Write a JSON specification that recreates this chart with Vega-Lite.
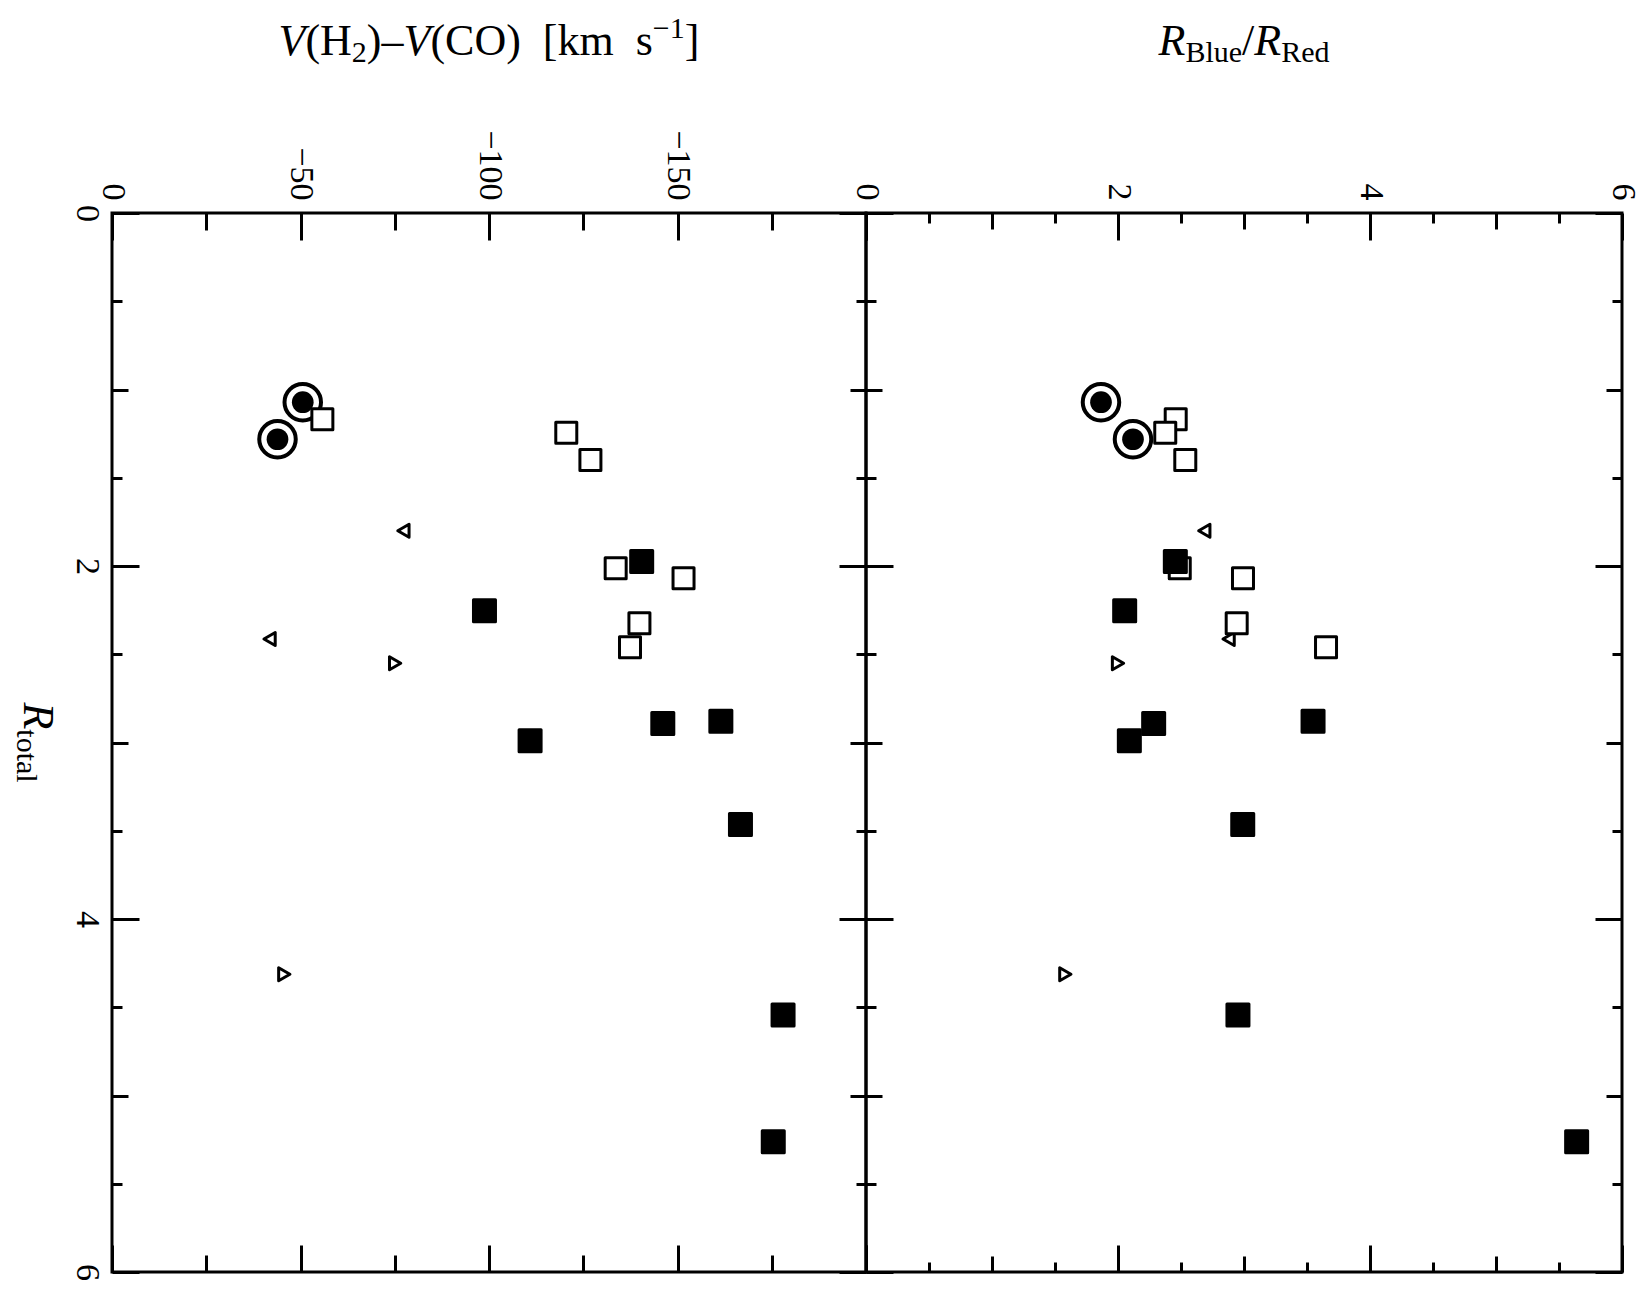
{
  "$schema": "https://vega.github.io/schema/vega-lite/v6.json",
  "padding": {"left": 9, "top": 12, "right": 5, "bottom": 5},
  "bounds": "flush",
  "spacing": 0,
  "config": {
    "font": "Liberation Serif",
    "view": {"stroke": "black", "strokeWidth": 3},
    "axis": {"domain": false, "grid": false, "tickColor": "black", "tickWidth": 3, "labelFont": "Liberation Serif", "labelFontSize": 34, "labelColor": "black"}
  },
  "datasets": {
    "pts": [
      {"R": 1.072, "dV": -50.6, "ratio": 1.865, "type": "circle"},
      {"R": 1.282, "dV": -43.9, "ratio": 2.119, "type": "circle"},
      {"R": 1.169, "dV": -55.8, "ratio": 2.458, "type": "open"},
      {"R": 1.245, "dV": -120.5, "ratio": 2.375, "type": "open"},
      {"R": 1.399, "dV": -126.9, "ratio": 2.534, "type": "open"},
      {"R": 1.80, "dV": -77.3, "ratio": 2.685, "type": "left"},
      {"R": 2.013, "dV": -133.6, "ratio": 2.49, "type": "open"},
      {"R": 1.974, "dV": -140.5, "ratio": 2.455, "type": "filled"},
      {"R": 2.07, "dV": -151.6, "ratio": 2.992, "type": "open"},
      {"R": 2.253, "dV": -98.8, "ratio": 2.053, "type": "filled"},
      {"R": 2.325, "dV": -139.9, "ratio": 2.942, "type": "open"},
      {"R": 2.46, "dV": -137.4, "ratio": 3.651, "type": "open"},
      {"R": 2.414, "dV": -41.8, "ratio": 2.878, "type": "left"},
      {"R": 2.551, "dV": -75.1, "ratio": 2.0, "type": "right"},
      {"R": 2.99, "dV": -110.9, "ratio": 2.09, "type": "filled"},
      {"R": 2.893, "dV": -146.1, "ratio": 2.283, "type": "filled"},
      {"R": 2.88, "dV": -161.5, "ratio": 3.548, "type": "filled"},
      {"R": 3.464, "dV": -166.7, "ratio": 2.99, "type": "filled"},
      {"R": 4.313, "dV": -45.7, "ratio": 1.582, "type": "right"},
      {"R": 4.544, "dV": -178.0, "ratio": 2.952, "type": "filled"},
      {"R": 5.262, "dV": -175.4, "ratio": 5.64, "type": "filled"}
    ]
  },
  "hconcat": [
    {
      "width": 754,
      "height": 1059,
      "data": {"name": "pts"},
      "resolve": {"axis": {"x": "independent", "y": "independent"}},
      "layer": [
        {
          "transform": [{"filter": "datum.type === 'circle'"}],
          "mark": {"type": "point", "shape": "circle", "size": 1332, "filled": false, "fill": null, "stroke": "black", "strokeWidth": 4, "opacity": 1},
          "encoding": {
            "x": {"field": "dV", "type": "quantitative", "scale": {"domain": [-200, 0], "reverse": true, "nice": false, "zero": false},
              "axis": {"orient": "top", "title": null, "values": [0, -25, -50, -75, -100, -125, -150, -175, -200], "tickSize": {"expr": "datum.value % 50 === 0 ? -27 : -17"}, "labelAngle": 90, "labelAlign": "right", "labelBaseline": "middle", "labelPadding": 40, "labelFlush": false, "labelOverlap": false, "labelExpr": "datum.value % 50 === 0 && datum.value > -200 ? datum.label : ''"}},
            "y": {"field": "R", "type": "quantitative", "scale": {"domain": [0, 6], "reverse": true, "nice": false, "zero": false},
              "axis": {"orient": "left", "title": null, "values": [0, 0.5, 1, 1.5, 2, 2.5, 3, 3.5, 4, 4.5, 5, 5.5, 6], "tickSize": {"expr": "datum.value % 2 === 0 ? -27 : (datum.value % 1 === 0 ? -16 : -10)"}, "labelAngle": 90, "labelAlign": "center", "labelBaseline": "top", "labelPadding": 36, "labelFlush": false, "labelOverlap": false, "labelExpr": "datum.value % 2 === 0 ? format(datum.value, 'd') : ''"}}
          }
        },
        {
          "transform": [{"filter": "datum.type === 'circle'"}],
          "mark": {"type": "point", "shape": "circle", "size": 471, "filled": true, "fill": "black", "strokeWidth": 0, "opacity": 1},
          "encoding": {
            "x": {"field": "dV", "type": "quantitative", "scale": {"domain": [-200, 0], "reverse": true, "nice": false, "zero": false},
              "axis": {"orient": "bottom", "title": null, "values": [0, -25, -50, -75, -100, -125, -150, -175, -200], "tickSize": {"expr": "datum.value % 50 === 0 ? -27 : -17"}, "labels": false}},
            "y": {"field": "R", "type": "quantitative", "scale": {"domain": [0, 6], "reverse": true, "nice": false, "zero": false},
              "axis": {"orient": "right", "title": null, "values": [0, 0.5, 1, 1.5, 2, 2.5, 3, 3.5, 4, 4.5, 5, 5.5, 6], "tickSize": {"expr": "datum.value % 2 === 0 ? -27 : (datum.value % 1 === 0 ? -16 : -10)"}, "labels": false}}
          }
        },
        {
          "transform": [{"filter": "datum.type === 'left'"}],
          "mark": {"type": "point", "shape": "triangle-left", "size": 169, "filled": true, "fill": "white", "stroke": "black", "strokeWidth": 3, "strokeJoin": "round", "opacity": 1},
          "encoding": {
            "x": {"field": "dV", "type": "quantitative", "scale": {"domain": [-200, 0], "reverse": true, "nice": false, "zero": false}, "axis": null},
            "y": {"field": "R", "type": "quantitative", "scale": {"domain": [0, 6], "reverse": true, "nice": false, "zero": false}, "axis": null}
          }
        },
        {
          "transform": [{"filter": "datum.type === 'right'"}],
          "mark": {"type": "point", "shape": "triangle-right", "size": 169, "filled": true, "fill": "white", "stroke": "black", "strokeWidth": 3, "strokeJoin": "round", "opacity": 1},
          "encoding": {
            "x": {"field": "dV", "type": "quantitative", "scale": {"domain": [-200, 0], "reverse": true, "nice": false, "zero": false}, "axis": null},
            "y": {"field": "R", "type": "quantitative", "scale": {"domain": [0, 6], "reverse": true, "nice": false, "zero": false}, "axis": null}
          }
        },
        {
          "transform": [{"filter": "datum.type === 'open'"}],
          "mark": {"type": "point", "shape": "square", "size": 441, "filled": true, "fill": "white", "stroke": "black", "strokeWidth": 3, "strokeJoin": "round", "opacity": 1},
          "encoding": {
            "x": {"field": "dV", "type": "quantitative", "scale": {"domain": [-200, 0], "reverse": true, "nice": false, "zero": false}, "axis": null},
            "y": {"field": "R", "type": "quantitative", "scale": {"domain": [0, 6], "reverse": true, "nice": false, "zero": false}, "axis": null}
          }
        },
        {
          "transform": [{"filter": "datum.type === 'filled'"}],
          "mark": {"type": "point", "shape": "square", "size": 484, "filled": true, "fill": "black", "stroke": "black", "strokeWidth": 3, "strokeJoin": "round", "opacity": 1},
          "encoding": {
            "x": {"field": "dV", "type": "quantitative", "scale": {"domain": [-200, 0], "reverse": true, "nice": false, "zero": false}, "axis": null},
            "y": {"field": "R", "type": "quantitative", "scale": {"domain": [0, 6], "reverse": true, "nice": false, "zero": false}, "axis": null}
          }
        },
        {
          "data": {"values": [{}]},
          "layer": [
            {"mark": {"type": "text", "text": "V", "fontSize": 44, "fontStyle": "italic", "align": "left", "baseline": "alphabetic", "dx": -210.5, "fill": "black"}},
            {"mark": {"type": "text", "text": "(H", "fontSize": 44, "align": "left", "baseline": "alphabetic", "dx": -183.6, "fill": "black"}},
            {"mark": {"type": "text", "text": "2", "fontSize": 30, "align": "left", "baseline": "alphabetic", "dx": -137.2, "dy": 7, "fill": "black"}},
            {"mark": {"type": "text", "text": ")–", "fontSize": 44, "align": "left", "baseline": "alphabetic", "dx": -122.2, "fill": "black"}},
            {"mark": {"type": "text", "text": "V", "fontSize": 44, "fontStyle": "italic", "align": "left", "baseline": "alphabetic", "dx": -85.5, "fill": "black"}},
            {"mark": {"type": "text", "text": "(CO)\u00a0\u00a0[km\u00a0\u00a0s", "fontSize": 44, "align": "left", "baseline": "alphabetic", "dx": -58.6, "fill": "black"}},
            {"mark": {"type": "text", "text": "−1", "fontSize": 30, "align": "left", "baseline": "alphabetic", "dx": 163.8, "dy": -17, "fill": "black"}},
            {"mark": {"type": "text", "text": "]", "fontSize": 44, "align": "left", "baseline": "alphabetic", "dx": 195.7, "fill": "black"}}
          ],
          "encoding": {
            "x": {"datum": -100, "type": "quantitative", "scale": {"domain": [-200, 0], "reverse": true, "nice": false, "zero": false}, "axis": null},
            "y": {"datum": -0.895, "type": "quantitative", "scale": {"domain": [0, 6], "reverse": true, "nice": false, "zero": false}, "axis": null}
          }
        },
        {
          "data": {"values": [{}]},
          "layer": [
            {"mark": {"type": "text", "text": "R", "fontSize": 44, "fontStyle": "italic", "align": "left", "baseline": "alphabetic", "angle": 90, "dx": -40.1, "fill": "black"}},
            {"mark": {"type": "text", "text": "total", "fontSize": 30, "align": "left", "baseline": "alphabetic", "angle": 90, "dx": -13.2, "dy": 7, "fill": "black"}}
          ],
          "encoding": {
            "x": {"datum": 23.3, "type": "quantitative", "scale": {"domain": [-200, 0], "reverse": true, "nice": false, "zero": false}, "axis": null},
            "y": {"datum": 3, "type": "quantitative", "scale": {"domain": [0, 6], "reverse": true, "nice": false, "zero": false}, "axis": null}
          }
        }
      ]
    },
    {
      "width": 756,
      "height": 1059,
      "data": {"name": "pts"},
      "resolve": {"axis": {"x": "independent", "y": "independent"}},
      "layer": [
        {
          "transform": [{"filter": "datum.type === 'circle'"}],
          "mark": {"type": "point", "shape": "circle", "size": 1332, "filled": false, "fill": null, "stroke": "black", "strokeWidth": 4, "opacity": 1},
          "encoding": {
            "x": {"field": "ratio", "type": "quantitative", "scale": {"domain": [0, 6], "nice": false, "zero": false},
              "axis": {"orient": "top", "title": null, "values": [0, 0.5, 1, 1.5, 2, 2.5, 3, 3.5, 4, 4.5, 5, 5.5, 6], "tickSize": {"expr": "datum.value % 2 === 0 ? -27 : (datum.value % 1 === 0 ? -16 : -10)"}, "labelAngle": 90, "labelAlign": "right", "labelBaseline": "middle", "labelPadding": 40, "labelFlush": false, "labelOverlap": false, "labelExpr": "datum.value % 2 === 0 ? format(datum.value, 'd') : ''"}},
            "y": {"field": "R", "type": "quantitative", "scale": {"domain": [0, 6], "reverse": true, "nice": false, "zero": false},
              "axis": {"orient": "left", "title": null, "values": [0, 0.5, 1, 1.5, 2, 2.5, 3, 3.5, 4, 4.5, 5, 5.5, 6], "tickSize": {"expr": "datum.value % 2 === 0 ? -27 : (datum.value % 1 === 0 ? -16 : -10)"}, "labels": false}}
          }
        },
        {
          "transform": [{"filter": "datum.type === 'circle'"}],
          "mark": {"type": "point", "shape": "circle", "size": 471, "filled": true, "fill": "black", "strokeWidth": 0, "opacity": 1},
          "encoding": {
            "x": {"field": "ratio", "type": "quantitative", "scale": {"domain": [0, 6], "nice": false, "zero": false},
              "axis": {"orient": "bottom", "title": null, "values": [0, 0.5, 1, 1.5, 2, 2.5, 3, 3.5, 4, 4.5, 5, 5.5, 6], "tickSize": {"expr": "datum.value % 2 === 0 ? -27 : (datum.value % 1 === 0 ? -16 : -10)"}, "labels": false}},
            "y": {"field": "R", "type": "quantitative", "scale": {"domain": [0, 6], "reverse": true, "nice": false, "zero": false},
              "axis": {"orient": "right", "title": null, "values": [0, 0.5, 1, 1.5, 2, 2.5, 3, 3.5, 4, 4.5, 5, 5.5, 6], "tickSize": {"expr": "datum.value % 2 === 0 ? -27 : (datum.value % 1 === 0 ? -16 : -10)"}, "labels": false}}
          }
        },
        {
          "transform": [{"filter": "datum.type === 'left'"}],
          "mark": {"type": "point", "shape": "triangle-left", "size": 169, "filled": true, "fill": "white", "stroke": "black", "strokeWidth": 3, "strokeJoin": "round", "opacity": 1},
          "encoding": {
            "x": {"field": "ratio", "type": "quantitative", "scale": {"domain": [0, 6], "nice": false, "zero": false}, "axis": null},
            "y": {"field": "R", "type": "quantitative", "scale": {"domain": [0, 6], "reverse": true, "nice": false, "zero": false}, "axis": null}
          }
        },
        {
          "transform": [{"filter": "datum.type === 'right'"}],
          "mark": {"type": "point", "shape": "triangle-right", "size": 169, "filled": true, "fill": "white", "stroke": "black", "strokeWidth": 3, "strokeJoin": "round", "opacity": 1},
          "encoding": {
            "x": {"field": "ratio", "type": "quantitative", "scale": {"domain": [0, 6], "nice": false, "zero": false}, "axis": null},
            "y": {"field": "R", "type": "quantitative", "scale": {"domain": [0, 6], "reverse": true, "nice": false, "zero": false}, "axis": null}
          }
        },
        {
          "transform": [{"filter": "datum.type === 'open'"}],
          "mark": {"type": "point", "shape": "square", "size": 441, "filled": true, "fill": "white", "stroke": "black", "strokeWidth": 3, "strokeJoin": "round", "opacity": 1},
          "encoding": {
            "x": {"field": "ratio", "type": "quantitative", "scale": {"domain": [0, 6], "nice": false, "zero": false}, "axis": null},
            "y": {"field": "R", "type": "quantitative", "scale": {"domain": [0, 6], "reverse": true, "nice": false, "zero": false}, "axis": null}
          }
        },
        {
          "transform": [{"filter": "datum.type === 'filled'"}],
          "mark": {"type": "point", "shape": "square", "size": 484, "filled": true, "fill": "black", "stroke": "black", "strokeWidth": 3, "strokeJoin": "round", "opacity": 1},
          "encoding": {
            "x": {"field": "ratio", "type": "quantitative", "scale": {"domain": [0, 6], "nice": false, "zero": false}, "axis": null},
            "y": {"field": "R", "type": "quantitative", "scale": {"domain": [0, 6], "reverse": true, "nice": false, "zero": false}, "axis": null}
          }
        },
        {
          "data": {"values": [{}]},
          "layer": [
            {"mark": {"type": "text", "text": "R", "fontSize": 44, "fontStyle": "italic", "align": "left", "baseline": "alphabetic", "dx": -85.5, "fill": "black"}},
            {"mark": {"type": "text", "text": "Blue", "fontSize": 30, "align": "left", "baseline": "alphabetic", "dx": -58.6, "dy": 7, "fill": "black"}},
            {"mark": {"type": "text", "text": "/", "fontSize": 44, "align": "left", "baseline": "alphabetic", "dx": -1.9, "fill": "black"}},
            {"mark": {"type": "text", "text": "R", "fontSize": 44, "fontStyle": "italic", "align": "left", "baseline": "alphabetic", "dx": 10.3, "fill": "black"}},
            {"mark": {"type": "text", "text": "Red", "fontSize": 30, "align": "left", "baseline": "alphabetic", "dx": 37.2, "dy": 7, "fill": "black"}}
          ],
          "encoding": {
            "x": {"datum": 3, "type": "quantitative", "scale": {"domain": [0, 6], "nice": false, "zero": false}, "axis": null},
            "y": {"datum": -0.895, "type": "quantitative", "scale": {"domain": [0, 6], "reverse": true, "nice": false, "zero": false}, "axis": null}
          }
        }
      ]
    }
  ]
}
